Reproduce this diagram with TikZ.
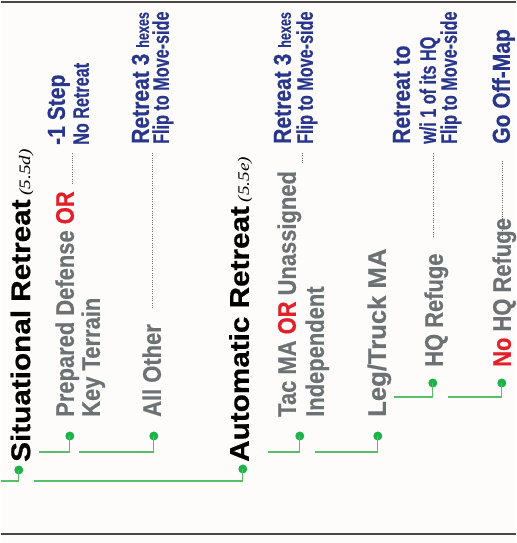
\documentclass[tikz,border=0pt]{standalone}
\usepackage{fontspec}
\setmainfont{Liberation Sans}
\newfontfamily\headfont[FakeStretch=1.1,BoldFeatures={FakeBold=0.6}]{Liberation Sans}
\newfontfamily\narrowfont[FakeStretch=0.86,BoldFeatures={FakeBold=0.5}]{Liberation Sans}
\newfontfamily\slimfont[FakeStretch=0.72,BoldFeatures={FakeBold=0.4}]{Liberation Sans}
\newfontfamily\reffont{Liberation Serif}
\usetikzlibrary{calc}
\definecolor{linegreen}{RGB}{88,190,105}
\definecolor{dotgreen}{RGB}{30,178,75}
\definecolor{condgray}{RGB}{108,113,116}
\definecolor{resblue}{RGB}{40,54,140}
\definecolor{orred}{RGB}{226,32,43}
\definecolor{rulegray}{RGB}{70,70,70}
\definecolor{paper}{RGB}{253,252,250}
\newcommand{\secref}[1]{{\reffont\itshape\mdseries\fontsize{16}{16}\selectfont\scalebox{1.2}[1]{(#1)}}}
\newcommand{\orword}{\textcolor{orred}{OR}}
\newcommand{\hexword}{{\slimfont\fontsize{17.5}{17}\selectfont hexes}}

\begin{document}
\begin{tikzpicture}[x=1pt,y=-1pt,
 head/.style={rotate=90,anchor=base west,inner sep=0,font=\headfont\bfseries\fontsize{27}{30}\selectfont},
 cond/.style={rotate=90,anchor=base west,inner sep=0,text=condgray,font=\narrowfont\bfseries\fontsize{25.5}{28}\selectfont},
 res/.style={rotate=90,anchor=base west,inner sep=0,text=resblue,font=\narrowfont\bfseries\fontsize{24.5}{26}\selectfont},
 sub/.style={rotate=90,anchor=base west,inner sep=0,text=resblue,font=\slimfont\bfseries\fontsize{22.5}{24}\selectfont},
 tick/.style={circle,fill=dotgreen,inner sep=0,minimum size=9pt},
 branch/.style={draw=linegreen,line width=1.3pt},
 leader/.style={draw=condgray,line width=0.9pt,dash pattern=on 0.9pt off 1.4pt}]
\fill[paper] (0,0) rectangle (515,543);
\draw[rulegray,line width=1.6pt] (0,2) -- (515,2);
\draw[rulegray,line width=1.6pt] (0,534) -- (515,534);

% headings
\node[head] (sitTitle) at (29.3,462) {Situational Retreat\hspace{4pt}\secref{5.5d}};
\node[head] (autoTitle) at (248,462) {Automatic Retreat\hspace{4pt}\secref{5.5e}};

% conditions
\node[cond] (prepDef) at (73,417) {Prepared Defense \orword};
\node[cond] (keyTer) at (99,417) {Key Terrain};
\node[cond] (allOther) at (160,417) {All Other};
\node[cond] (tacMA) at (295,417) {Tac MA \orword{} Unassigned};
\node[cond] (indep) at (323,417) {Independent};
\node[cond] (legTruck) at (385,417) {\scalebox{1.17}[1]{Leg/Truck MA}};
\node[cond] (hqRef) at (442,367) {HQ Refuge};
\node[cond] (noHqRef) at (510,367) {\textcolor{orred}{No} HQ Refuge};

% results
\node[res] (stepRes) at (64,145) {-1 Step};
\node[sub] (stepSub) at (88,145) {No Retreat};
\node[res] (hexRes1) at (148,144) {Retreat 3 \hexword};
\node[sub] (flipSub1) at (168,144) {Flip to Move-side};
\node[res] (hexRes2) at (290,144) {Retreat 3 \hexword};
\node[sub] (flipSub2) at (312,144) {Flip to Move-side};
\node[res] (hqRes) at (409,144) {Retreat to};
\node[sub] (hqSub) at (435,144) {w/i 1 of its HQ};
\node[sub] (flipSub3) at (456,144) {Flip to Move-side};
\node[res] (offMap) at (509,144) {Go Off-Map};

% leaders
\coordinate (lpA) at (72,184);  \coordinate (lpB) at (72,153);
\coordinate (laA) at (152,308); \coordinate (laB) at (152,153);
\coordinate (ltA) at (302,163); \coordinate (ltB) at (302,152);
\coordinate (lhA) at (433,237); \coordinate (lhB) at (433,153);
\coordinate (lnA) at (502,240); \coordinate (lnB) at (502,160);
\foreach \a/\b in {lpA/lpB,laA/laB,ltA/ltB,lhA/lhB,lnA/lnB}
  \draw[leader] (\a) -- (\b);

% tree
\node[tick] (dSit) at (18,470) {};
\node[tick] (dAuto) at (242,469) {};
\node[tick] (dPrep) at (69,436) {};
\node[tick] (dAll) at (153,436) {};
\node[tick] (dTac) at (299,436) {};
\node[tick] (dLeg) at (377,436) {};
\node[tick] (dHq) at (432,383) {};
\node[tick] (dNoHq) at (501,383) {};
\coordinate (bSit) at (0,481);
\coordinate (bAuto) at (33,481);
\coordinate (bPrep) at (38,452);
\coordinate (bAll) at (78,452);
\coordinate (bTac) at (267,452);
\coordinate (bLeg) at (314,452);
\coordinate (bHq) at (393,397);
\coordinate (bNoHq) at (447,397);
\foreach \b/\d in {bSit/dSit,bAuto/dAuto,bPrep/dPrep,bAll/dAll,bTac/dTac,bLeg/dLeg,bHq/dHq,bNoHq/dNoHq}
  \draw[branch] (\b) -| (\d.center);
\end{tikzpicture}
\end{document}
